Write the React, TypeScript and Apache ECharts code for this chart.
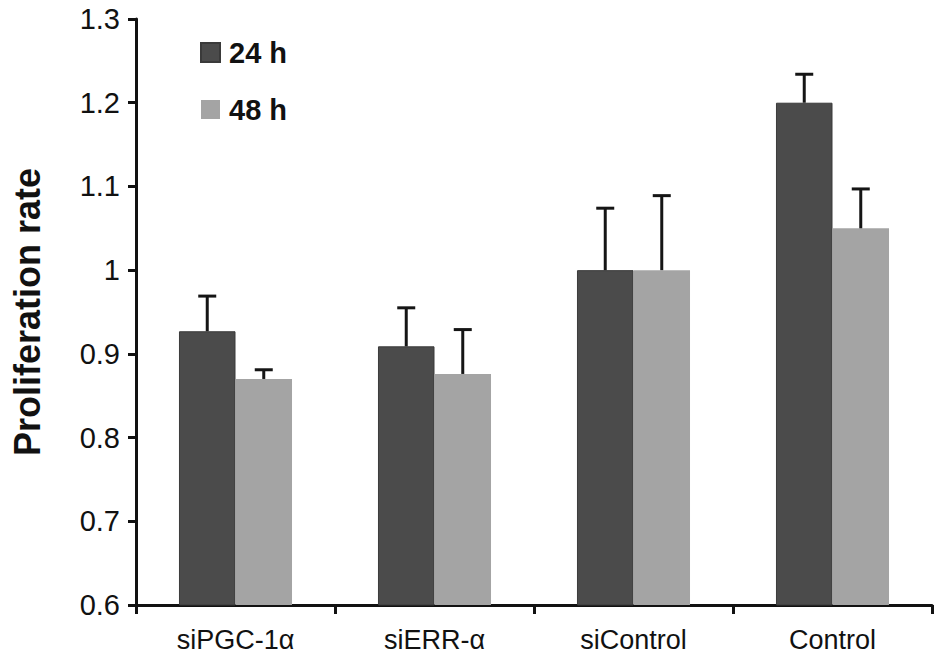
import { useEffect, useRef } from 'react'
import * as echarts from 'echarts'

const categories = ['siPGC-1α', 'siERR-α', 'siControl', 'Control']
const series24h = [0.927, 0.909, 1.0, 1.2]
const err24h = [0.042, 0.046, 0.074, 0.034]
const series48h = [0.87, 0.876, 1.0, 1.05]
const err48h = [0.011, 0.053, 0.089, 0.047]
const yTicks = [0.6, 0.7, 0.8, 0.9, 1, 1.1, 1.2, 1.3]

const FONT = '"Liberation Sans", Arial, sans-serif'
const DARK = '#4b4b4b'
const LIGHT = '#a4a4a4'
const BAR_RATIO = 0.284

export default function App() {
  const ref = useRef<HTMLDivElement>(null)

  useEffect(() => {
    document.body.style.margin = '0'
    if (!ref.current) return
    const chart = echarts.init(ref.current, undefined, { renderer: 'svg' })
    chart.setOption(buildOption())
    return () => chart.dispose()
  }, [])

  return <div ref={ref} style={{ width: 945, height: 667 }} />
}

// upper whisker only, drawn over the centre of each bar
function errorSeries(name: string, values: number[], errs: number[], side: number) {
  return {
    name: name + ' err',
    type: 'custom',
    z: 5,
    data: values.map((v, i) => [i, v, errs[i]]),
    renderItem: (_params: any, api: any) => {
      const idx = api.value(0)
      const top = api.coord([idx, api.value(1) + api.value(2)])
      const base = api.coord([idx, api.value(1)])
      const bw = api.size([1, 0])[0] * BAR_RATIO
      const x = base[0] + (side * bw) / 2
      const style = { stroke: '#151515', lineWidth: 3 }
      return {
        type: 'group',
        children: [
          { type: 'line', shape: { x1: x, y1: base[1], x2: x, y2: top[1] }, style },
          { type: 'line', shape: { x1: x - 9, y1: top[1], x2: x + 9, y2: top[1] }, style }
        ]
      }
    }
  }
}

function buildOption() {
  const axisLine = { lineStyle: { color: '#111', width: 3 } }
  return {
    animation: false,
    backgroundColor: '#fff',
    textStyle: { fontFamily: FONT },
    grid: { left: 136, right: 13, top: 19, bottom: 62, outerBoundsMode: 'none', containLabel: false },
    legend: {
      orient: 'vertical',
      left: 200,
      top: 38,
      padding: 0,
      itemWidth: 19,
      itemHeight: 19,
      itemGap: 28,
      icon: 'rect',
      data: ['24 h', '48 h'],
      textStyle: {
        fontFamily: FONT,
        fontSize: 29,
        fontWeight: 'bold',
        color: '#111',
        padding: [0, 0, 0, 4]
      }
    },
    xAxis: {
      type: 'category',
      data: categories,
      axisLine,
      axisTick: { show: true, length: 9, lineStyle: { color: '#111', width: 3 } },
      axisLabel: { fontFamily: FONT, fontSize: 27, color: '#111', margin: 21 }
    },
    yAxis: {
      type: 'value',
      min: 0.6,
      max: 1.3,
      interval: 0.1,
      name: 'Proliferation rate',
      nameLocation: 'middle',
      nameGap: 91,
      nameTextStyle: { fontFamily: FONT, fontSize: 36, fontWeight: 'bold', color: '#111' },
      splitLine: { show: false },
      axisLine: { show: true, ...axisLine },
      axisTick: { show: true, length: 8, lineStyle: { color: '#111', width: 3 } },
      axisLabel: {
        fontFamily: FONT,
        fontSize: 29,
        color: '#111',
        margin: 16,
        formatter: (v: number) => {
          const t = yTicks.find((y) => Math.abs(y - v) < 1e-6)
          return String(t ?? Math.round(v * 10) / 10)
        }
      }
    },
    series: [
      {
        name: '24 h',
        type: 'bar',
        data: series24h,
        barWidth: BAR_RATIO * 100 + '%',
        barGap: '0%',
        itemStyle: { color: DARK, borderColor: '#3a3a3a', borderWidth: 1 }
      },
      {
        name: '48 h',
        type: 'bar',
        data: series48h,
        barWidth: BAR_RATIO * 100 + '%',
        barGap: '0%',
        itemStyle: { color: LIGHT }
      },
      errorSeries('24 h', series24h, err24h, -1),
      errorSeries('48 h', series48h, err48h, 1)
    ]
  }
}
